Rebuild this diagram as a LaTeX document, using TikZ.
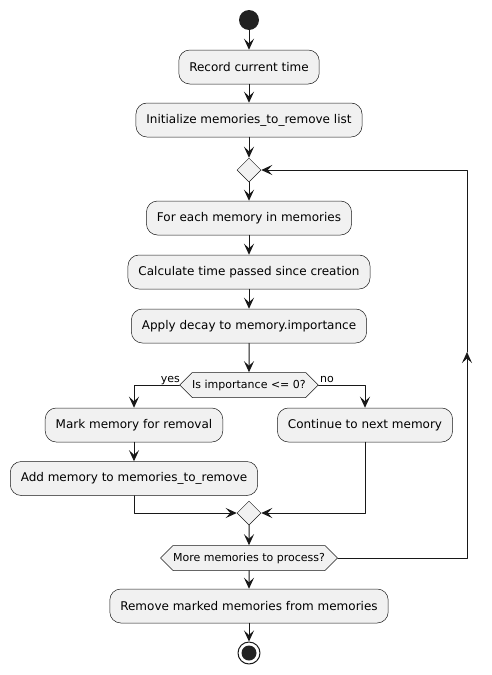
\documentclass[tikz,border=0pt]{standalone}
\usepackage{fontspec}
\setmainfont{DejaVu Sans}
\usetikzlibrary{arrows.meta,shapes.geometric,shapes.symbols}
\definecolor{boxfill}{HTML}{F1F1F1}
\definecolor{ink}{HTML}{181818}
\definecolor{dot}{HTML}{222222}
\tikzset{
  act/.style={draw=ink,line width=0.5pt,fill=boxfill,rounded corners=11pt,minimum height=34pt,inner xsep=10.5pt,font=\fontsize{12}{14}\selectfont},
  cond/.style={draw=ink,line width=0.5pt,fill=boxfill,signal,signal to=west and east,signal pointer angle=90,minimum height=25pt,inner xsep=0pt,inner ysep=0pt,font=\fontsize{11}{13}\selectfont},
  merge/.style={draw=ink,line width=0.5pt,fill=boxfill,diamond,minimum width=24pt,minimum height=24pt,inner sep=0pt},
  startdot/.style={circle,fill=dot,minimum size=20pt,inner sep=0pt},
  stopdot/.style={circle,draw=ink,line width=1pt,fill=white,minimum size=22pt,inner sep=0pt},
  flow/.style={draw=ink,line width=1pt,-{Stealth[length=11pt,width=10pt,inset=4.5pt]}},
  lbl/.style={font=\fontsize{11}{13}\selectfont,inner sep=0pt},
}
\begin{document}
\begin{tikzpicture}[line cap=round,line join=round,x=1pt,y=-1pt]
        \useasboundingbox (0,0) rectangle (491,675);
        % main column
        \node[startdot] (start) at (249,20) {};
        \node[act] (rec) at (249,67) {Record current time};
        \node[act] (init) at (249,120) {Initialize memories\_to\_remove list};
        \node[merge] (loop) at (249,170) {};
        \node[act] (each) at (249,218) {For each memory in memories};
        \node[act] (calc) at (249,272) {Calculate time passed since creation};
        \node[act] (decay) at (249,326) {Apply decay to memory.importance};
        \node[cond] (imp) at (249,385) {Is importance <= 0?};
        % branches
        \node[act] (mark) at (134,425) {Mark memory for removal};
        \node[act] (add) at (134,478.5) {Add memory to memories\_to\_remove};
        \node[act] (cont) at (365,425) {Continue to next memory};
        \node[lbl,anchor=base east] (yes) at (180,382) {yes};
        \node[lbl,anchor=base west] (no) at (320,382) {no};
        \node[merge] (join) at (249,513) {};
        \node[cond] (more) at (249,558) {More memories to process?};
        \node[act] (remove) at (249,606) {Remove marked memories from memories};
        \node[stopdot] (stop) at (249,653) {};
        \fill[dot] (stop) circle (7.5);
        \coordinate (loopup) at (467,352);
        % connectors
        \draw[flow] (start) -- (rec);
        \draw[flow] (rec) -- (init);
        \draw[flow] (init) -- (loop);
        \draw[flow] (loop) -- (each);
        \draw[flow] (each) -- (calc);
        \draw[flow] (calc) -- (decay);
        \draw[flow] (decay) -- (imp);
        \draw[flow] (imp.west) -| (mark);
        \draw[flow] (imp.east) -| (cont);
        \draw[flow] (mark) -- (add);
        \draw[flow] (add) |- (join.west);
        \draw[flow] (cont) |- (join.east);
        \draw[flow] (join) -- (more);
        \draw[flow] (more) -- (remove);
        \draw[flow] (remove) -- (stop);
        \draw[flow] (more.east) -| (loopup);
        \draw[flow] (loopup) |- (loop.east);
\end{tikzpicture}
\end{document}
